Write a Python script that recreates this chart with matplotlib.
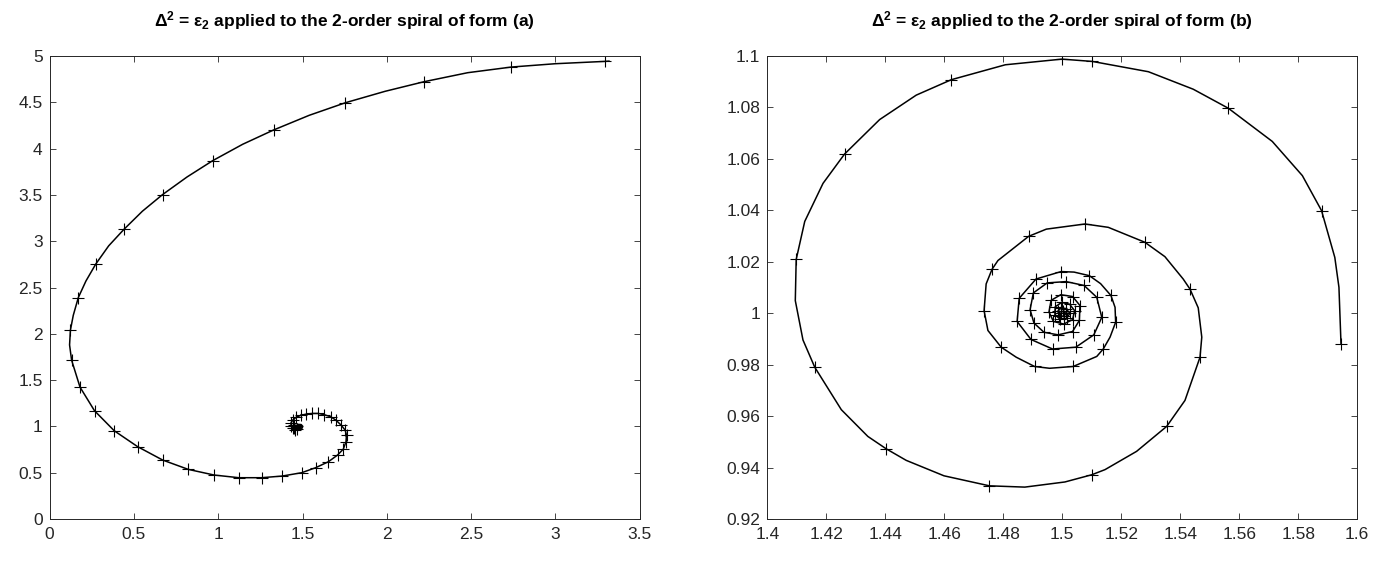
import matplotlib
matplotlib.use("Agg")
import matplotlib.pyplot as plt

plt.rcParams['font.family'] = ['Liberation Sans', 'DejaVu Sans']
plt.rcParams['mathtext.fontset'] = 'custom'
plt.rcParams['mathtext.rm'] = 'Liberation Sans:bold'
plt.rcParams['mathtext.it'] = 'Liberation Sans:bold'
plt.rcParams['mathtext.bf'] = 'Liberation Sans:bold'

# ---------------- data: spiral (a) ----------------
a_mark_x = [3.292, 2.739, 2.222, 1.755, 1.328, 0.968, 0.670, 0.441, 0.274, 0.170,
            0.123, 0.130, 0.180, 0.266, 0.383, 0.522, 0.670, 0.822, 0.975, 1.122,
            1.257, 1.380, 1.495, 1.578, 1.654, 1.708, 1.742, 1.758, 1.761, 1.753,
            1.729, 1.698, 1.667, 1.630, 1.594, 1.557, 1.523, 1.489, 1.461, 1.442,
            1.432, 1.432, 1.442, 1.455, 1.470, 1.452, 1.445, 1.450]
a_mark_y = [4.942, 4.881, 4.723, 4.496, 4.201, 3.871, 3.504, 3.129, 2.755, 2.392,
            2.040, 1.716, 1.424, 1.169, 0.953, 0.781, 0.637, 0.536, 0.475, 0.446,
            0.446, 0.464, 0.500, 0.554, 0.619, 0.691, 0.755, 0.834, 0.906, 0.960,
            1.014, 1.068, 1.104, 1.126, 1.140, 1.140, 1.133, 1.119, 1.097, 1.068,
            1.040, 1.007, 0.978, 0.960, 0.970, 1.020, 1.000, 0.985]
a_line_x = [3.318, 3.292, 3.000, 2.739, 2.480, 2.222, 1.990, 1.755, 1.540, 1.328, 1.145,
            0.968, 0.815, 0.670, 0.550, 0.441, 0.350, 0.274, 0.215, 0.170, 0.140,
            0.123, 0.118, 0.130, 0.180, 0.266, 0.383, 0.522, 0.670, 0.822, 0.975, 1.122,
            1.257, 1.380, 1.495, 1.578, 1.654, 1.708, 1.742, 1.758, 1.761, 1.753,
            1.729, 1.698, 1.667, 1.630, 1.594, 1.557, 1.523, 1.489, 1.461, 1.442,
            1.432, 1.432, 1.442, 1.455, 1.478, 1.495, 1.502, 1.492, 1.472, 1.460,
            1.468, 1.487, 1.492, 1.481, 1.472, 1.480, 1.485]
a_line_y = [4.945, 4.942, 4.917, 4.881, 4.820, 4.723, 4.619, 4.496, 4.360, 4.201, 4.047,
            3.871, 3.694, 3.504, 3.324, 3.129, 2.950, 2.755, 2.570, 2.392, 2.200,
            2.040, 1.880, 1.716, 1.424, 1.169, 0.953, 0.781, 0.637, 0.536, 0.475, 0.446,
            0.446, 0.464, 0.500, 0.554, 0.619, 0.691, 0.755, 0.834, 0.906, 0.960,
            1.014, 1.068, 1.104, 1.126, 1.140, 1.140, 1.133, 1.119, 1.097, 1.068,
            1.040, 1.007, 0.978, 0.960, 0.958, 0.975, 1.000, 1.020, 1.022, 1.000,
            0.980, 0.985, 1.000, 1.008, 0.998, 0.990, 0.997]

# ---------------- data: spiral (b) ----------------
b_line_x = [1.5945, 1.5938, 1.5924, 1.5879, 1.5814, 1.5712, 1.5563, 1.5444, 1.5292, 1.5102,
            1.4999, 1.4807, 1.4624, 1.4505, 1.4381, 1.4262, 1.4189, 1.4127, 1.4098, 1.4095,
            1.4121, 1.4161, 1.4251, 1.4341, 1.4403, 1.4471, 1.4599, 1.4753, 1.4873, 1.5009,
            1.5100, 1.5145, 1.5252, 1.5354, 1.5416, 1.5467, 1.5473, 1.5461, 1.5433, 1.5410,
            1.5348, 1.5280, 1.5156, 1.5077, 1.4946, 1.4886, 1.4782, 1.4762, 1.4742, 1.4735,
            1.4748, 1.4793, 1.4844, 1.4906, 1.4957, 1.5037, 1.5117, 1.5139, 1.5162, 1.5181,
            1.5179, 1.5165, 1.5130, 1.5092, 1.5040, 1.4996, 1.4911, 1.4854, 1.4847, 1.4894,
            1.4967, 1.5046, 1.5107, 1.5134, 1.5117, 1.5074, 1.5013, 1.4949, 1.4902, 1.4891,
            1.4904, 1.4938, 1.4986, 1.5035, 1.5058, 1.5060, 1.5035, 1.4995, 1.4962, 1.4955,
            1.4970, 1.5005, 1.5035, 1.5042, 1.5025, 1.4998, 1.4976, 1.4975, 1.4992, 1.5015,
            1.5026, 1.5012, 1.4995, 1.4985, 1.4990, 1.5006, 1.5012, 1.5002, 1.4996]
b_line_y = [0.9881, 1.0101, 1.0217, 1.0399, 1.0535, 1.0668, 1.0797, 1.0871, 1.0939, 1.0979,
            1.0988, 1.0966, 1.0908, 1.0848, 1.0753, 1.0619, 1.0505, 1.0357, 1.0209, 1.0049,
            0.9896, 0.9790, 0.9625, 0.9521, 0.9473, 0.9428, 0.9368, 0.9329, 0.9324, 0.9344,
            0.9372, 0.9392, 0.9463, 0.9560, 0.9661, 0.9829, 0.9907, 1.0021, 1.0094, 1.0133,
            1.0220, 1.0276, 1.0334, 1.0347, 1.0327, 1.0299, 1.0205, 1.0171, 1.0114, 1.0010,
            0.9933, 0.9868, 0.9829, 0.9793, 0.9786, 0.9793, 0.9832, 0.9861, 0.9907, 0.9965,
            1.0023, 1.0069, 1.0115, 1.0146, 1.0160, 1.0162, 1.0133, 1.0058, 0.9968, 0.9898,
            0.9861, 0.9868, 0.9916, 0.9984, 1.0062, 1.0108, 1.0123, 1.0118, 1.0079, 1.0014,
            0.9962, 0.9926, 0.9916, 0.9929, 0.9972, 1.0030, 1.0065, 1.0072, 1.0050, 1.0005,
            0.9968, 0.9958, 0.9975, 1.0010, 1.0035, 1.0042, 1.0025, 0.9995, 0.9977, 0.9980,
            1.0000, 1.0018, 1.0022, 1.0008, 0.9990, 0.9988, 1.0000, 1.0008, 1.0002]
b_mark_x = [1.5945, 1.5879, 1.5563, 1.5102, 1.4999, 1.4624, 1.4262, 1.4098, 1.4161, 1.4403,
            1.4753, 1.5100, 1.5354, 1.5467, 1.5433, 1.5280, 1.5077, 1.4886, 1.4762, 1.4735,
            1.4793, 1.4906, 1.5037, 1.5139, 1.5181, 1.5165, 1.5092, 1.4996, 1.4911, 1.4854,
            1.4847, 1.4894, 1.4967, 1.5046, 1.5107, 1.5134, 1.5117, 1.5074, 1.5013, 1.4949,
            1.4902, 1.4891, 1.4904, 1.4938, 1.4986, 1.5035, 1.5058, 1.5060, 1.5035, 1.4995,
            1.4962, 1.4955, 1.4970, 1.5005, 1.5035, 1.5042, 1.5025, 1.4998, 1.4976, 1.4975,
            1.4992, 1.5015, 1.5026, 1.5012, 1.4995, 1.4985, 1.4990, 1.5006, 1.5012, 1.5002,
            1.4996]
b_mark_y = [0.9881, 1.0399, 1.0797, 1.0979, 1.0988, 1.0908, 1.0619, 1.0209, 0.9790, 0.9473,
            0.9329, 0.9372, 0.9560, 0.9829, 1.0094, 1.0276, 1.0347, 1.0299, 1.0171, 1.0010,
            0.9868, 0.9793, 0.9793, 0.9861, 0.9965, 1.0069, 1.0146, 1.0162, 1.0133, 1.0058,
            0.9968, 0.9898, 0.9861, 0.9868, 0.9916, 0.9984, 1.0062, 1.0108, 1.0123, 1.0118,
            1.0079, 1.0014, 0.9962, 0.9926, 0.9916, 0.9929, 0.9972, 1.0030, 1.0065, 1.0072,
            1.0050, 1.0005, 0.9968, 0.9958, 0.9975, 1.0010, 1.0035, 1.0042, 1.0025, 0.9995,
            0.9977, 0.9980, 1.0000, 1.0018, 1.0022, 1.0008, 0.9990, 0.9988, 1.0000, 1.0008,
            1.0002]

a_xticks = [0, 0.5, 1, 1.5, 2, 2.5, 3, 3.5]
a_xticklabels = ['0', '0.5', '1', '1.5', '2', '2.5', '3', '3.5']
a_yticks = [0, 0.5, 1, 1.5, 2, 2.5, 3, 3.5, 4, 4.5, 5]
a_yticklabels = ['0', '0.5', '1', '1.5', '2', '2.5', '3', '3.5', '4', '4.5', '5']
b_xticks = [1.4, 1.42, 1.44, 1.46, 1.48, 1.5, 1.52, 1.54, 1.56, 1.58, 1.6]
b_xticklabels = ['1.4', '1.42', '1.44', '1.46', '1.48', '1.5', '1.52', '1.54', '1.56', '1.58', '1.6']
b_yticks = [0.92, 0.94, 0.96, 0.98, 1.0, 1.02, 1.04, 1.06, 1.08, 1.1]
b_yticklabels = ['0.92', '0.94', '0.96', '0.98', '1', '1.02', '1.04', '1.06', '1.08', '1.1']

title_a = r'$\Delta^{2}$ = $\epsilon_{2}$ applied to the 2-order spiral of form (a)'
title_b = r'$\Delta^{2}$ = $\epsilon_{2}$ applied to the 2-order spiral of form (b)'

fig = plt.figure(figsize=(13.8, 5.62), dpi=100)
axA = fig.add_axes([0.036, 0.0765, 0.4275, 0.8238])
axB = fig.add_axes([0.556, 0.0765, 0.4275, 0.8238])

edge = '#262626'

def style(ax, xt, xtl, yt, ytl, xlim, ylim, title):
    ax.set_xlim(*xlim)
    ax.set_ylim(*ylim)
    ax.set_xticks(xt)
    ax.set_xticklabels(xtl)
    ax.set_yticks(yt)
    ax.set_yticklabels(ytl)
    ax.tick_params(direction='in', top=True, right=True, length=4.3, width=0.6,
                   colors=edge, labelsize=12.5)
    ax.tick_params(axis='x', pad=6)
    ax.tick_params(axis='y', pad=5)
    for s in ax.spines.values():
        s.set_color(edge)
        s.set_linewidth(0.7)
    ax.set_title(title, fontsize=12.5, fontweight='bold', pad=21)

axA.plot(a_line_x, a_line_y, '-', color='black', lw=1.1)
axA.plot(a_mark_x, a_mark_y, '+', color='black', ms=8, mew=0.8)
style(axA, a_xticks, a_xticklabels, a_yticks, a_yticklabels, (0, 3.5), (0, 5), title_a)

axB.plot(b_line_x, b_line_y, '-', color='black', lw=1.1)
axB.plot(b_mark_x, b_mark_y, '+', color='black', ms=8, mew=0.8)
style(axB, b_xticks, b_xticklabels, b_yticks, b_yticklabels, (1.4, 1.6), (0.92, 1.1), title_b)

fig.savefig('out.png', dpi=100)
